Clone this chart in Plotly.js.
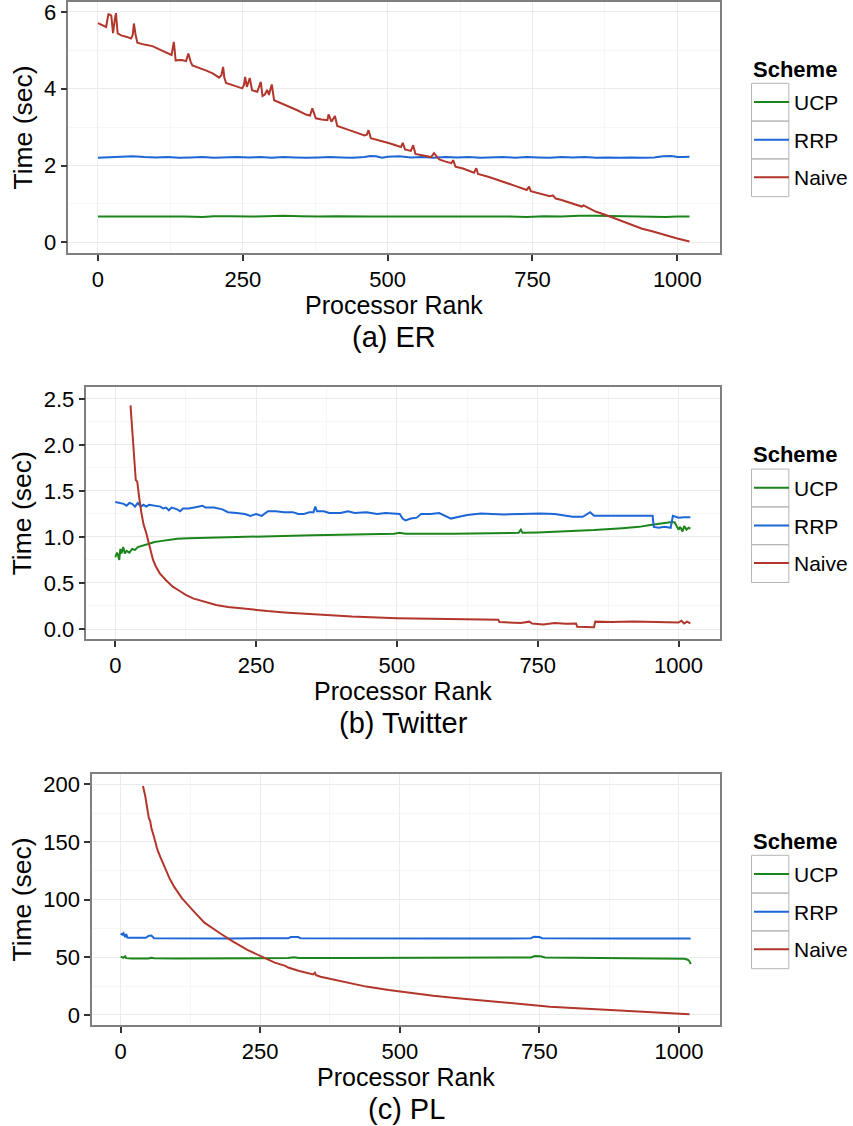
<!DOCTYPE html>
<html>
<head>
<meta charset="utf-8">
<script src="https://cdn.plot.ly/plotly-3.0.1.min.js"></script>
<style>html,body{margin:0;padding:0;background:#fff;}#chart{width:853px;height:1126px;}</style>
</head>
<body>
<div id="chart"></div>
<script>
// ---------- DATA ----------
const seriesNames = ["UCP", "RRP", "Naive"];
const panelCaptions = ["(a) ER", "(b) Twitter", "(c) PL"];
const xTitle = "Processor Rank";
const yTitle = "Time (sec)";
const legendTitle = "Scheme";
const xTickVals = [0, 250, 500, 750, 1000];

// (a) ER
const erNaiveX = [0,8,14,18,21,23,26,29,31,34,40,50,57,60,62,65,68,80,94,105,117,127,131,134,145,152,156,160,163,175,186,198,209,213,216,218,221,235,249,252,254,257,260,262,266,275,281,284,288,292,295,300,304,315,324,335,344,360,366,370,376,386,396,398,403,409,413,430,447,460,464,467,471,485,503,515,523,526,530,540,544,548,565,575,580,589,600,610,613,617,630,649,653,656,675,700,720,740,744,747,765,780,785,790,800,820,835,838,850,859,880,899,920,938,958,977,1000,1021];
const erNaiveY = [5.71,5.65,5.61,5.94,5.93,5.90,5.45,5.80,5.97,5.44,5.39,5.35,5.31,5.40,5.70,5.40,5.20,5.15,5.11,5.03,4.94,4.88,5.22,4.74,4.75,4.72,4.92,4.70,4.61,4.55,4.48,4.40,4.29,4.35,4.57,4.30,4.15,4.08,4.01,4.10,4.31,4.05,4.20,4.28,3.96,3.92,4.18,3.81,3.85,3.97,3.84,4.11,3.70,3.63,3.57,3.50,3.44,3.32,3.30,3.49,3.23,3.20,3.18,3.33,3.14,3.29,3.03,2.94,2.85,2.78,2.80,2.92,2.71,2.66,2.58,2.52,2.48,2.59,2.42,2.38,2.53,2.30,2.25,2.22,2.32,2.16,2.10,2.06,2.14,1.97,1.92,1.81,1.93,1.78,1.70,1.58,1.47,1.36,1.45,1.33,1.26,1.20,1.22,1.14,1.10,1.01,0.93,0.96,0.86,0.80,0.69,0.58,0.47,0.36,0.28,0.19,0.10,0.02];
const erRrpX = [0,20,40,60,80,100,120,140,160,180,200,220,240,260,280,300,320,340,360,380,400,420,440,460,470,480,490,500,520,540,560,580,600,620,640,660,680,700,720,740,760,780,800,820,840,860,880,900,920,940,960,975,990,1000,1010,1021];
const erRrpY = [2.20,2.21,2.22,2.24,2.22,2.21,2.22,2.20,2.21,2.22,2.20,2.21,2.22,2.21,2.22,2.20,2.22,2.21,2.20,2.21,2.22,2.21,2.20,2.22,2.25,2.24,2.20,2.23,2.24,2.21,2.22,2.20,2.22,2.21,2.22,2.20,2.21,2.22,2.20,2.22,2.21,2.20,2.22,2.21,2.22,2.20,2.21,2.20,2.21,2.20,2.21,2.24,2.25,2.22,2.22,2.23];
const erUcpX = [0,30,60,90,120,150,180,200,230,260,290,320,350,380,410,440,470,500,530,560,590,620,650,680,710,740,770,800,830,860,890,920,950,980,1000,1021];
const erUcpY = [0.67,0.67,0.68,0.68,0.67,0.67,0.66,0.68,0.68,0.67,0.68,0.69,0.68,0.67,0.68,0.67,0.67,0.67,0.67,0.68,0.67,0.68,0.67,0.67,0.67,0.66,0.68,0.67,0.69,0.69,0.68,0.67,0.67,0.66,0.67,0.67];

// (b) Twitter
const twNaiveX = [27,29,31.6,34.5,36.3,39,40,42.2,46.4,50,55,60,67,72,79,90,102,115,125,138,155,179,200,235,270,300,365,420,500,560,620,680,682,700,720,735,740,760,780,800,818,820,835,850,852,880,920,960,990,1000,1005,1010,1015,1021];
const twNaiveY = [2.43,2.25,2.05,1.76,1.62,1.60,1.52,1.44,1.26,1.14,1.04,0.92,0.75,0.68,0.605,0.53,0.46,0.41,0.37,0.333,0.30,0.26,0.24,0.214,0.195,0.18,0.152,0.135,0.118,0.11,0.105,0.10,0.075,0.072,0.065,0.08,0.06,0.05,0.065,0.058,0.06,0.025,0.022,0.02,0.08,0.075,0.082,0.08,0.075,0.07,0.09,0.06,0.08,0.06];
const twRrpX = [0,8,15,20,25,30,35,40,45,50,55,60,70,80,85,90,95,100,110,115,120,130,140,150,155,160,175,190,200,215,230,240,250,260,265,271,285,300,315,325,335,345,352,355,358,370,380,400,413,425,446,465,480,505,510,515,525,535,543,560,575,590,596,610,625,649,670,690,720,755,780,800,812,830,843,850,880,917,940,950,954,956,965,975,986,990,1000,1010,1021];
const twRrpY = [1.38,1.37,1.36,1.34,1.37,1.36,1.33,1.37,1.33,1.35,1.33,1.35,1.34,1.33,1.31,1.32,1.29,1.32,1.30,1.28,1.31,1.31,1.32,1.33,1.34,1.32,1.32,1.30,1.27,1.26,1.25,1.23,1.25,1.23,1.25,1.28,1.28,1.27,1.27,1.25,1.25,1.27,1.27,1.33,1.28,1.28,1.26,1.26,1.28,1.26,1.27,1.25,1.26,1.25,1.20,1.18,1.20,1.21,1.25,1.25,1.26,1.22,1.20,1.22,1.24,1.255,1.25,1.245,1.25,1.255,1.25,1.23,1.22,1.22,1.27,1.23,1.23,1.23,1.23,1.235,1.23,1.11,1.10,1.11,1.10,1.23,1.21,1.215,1.215];
const twUcpX = [0,3,5,7,9,11,14,17,20,25,30,35,40,50,60,70,80,95,110,130,160,200,250,300,350,400,450,495,505,515,600,650,700,716,720,723,750,800,850,900,930,950,970,985,993,997,1000,1003,1007,1010,1014,1018,1021];
const twUcpY = [0.78,0.83,0.80,0.75,0.87,0.82,0.89,0.82,0.85,0.83,0.87,0.86,0.89,0.91,0.93,0.945,0.955,0.97,0.98,0.985,0.99,1.00,1.01,1.015,1.02,1.025,1.03,1.035,1.045,1.035,1.035,1.04,1.04,1.045,1.08,1.045,1.05,1.06,1.075,1.095,1.11,1.13,1.15,1.16,1.16,1.12,1.08,1.11,1.06,1.12,1.08,1.10,1.09];

// (c) PL
const plNaiveX = [40,44,48,50.6,53,55,58.8,62,66,71,80,88,96,110,128.6,150,178,190,200,227,250,276,295,300,320,345,348,350,358,400,440,480,523,560,604,650,687,730,769,810,851,890,933,980,1000,1019];
const plNaiveY = [198.5,190,178,170.5,168,162,156,150,143,137,127,118,111,101,91,80,70.8,67,64,56.3,51,45.3,42.5,41,38,35,36.5,34.5,33.1,28.5,24.5,21.5,18.7,16.5,14.4,12.3,10.6,8.8,7.1,6.0,4.85,3.6,2.25,1.3,0.9,0.5];
const plRrpX = [0,3,5,8,10,12,15,30,45,50,55,60,100,150,200,250,300,305,318,322,400,500,600,700,735,740,750,755,800,900,1000,1021];
const plRrpY = [70.5,69.5,70.8,67.5,70,67,66.8,66.6,66.8,68.5,68.8,66.5,66.3,66.4,66.3,66.5,66.4,67.5,67.5,66.5,66.3,66.4,66.3,66.2,66.5,67.8,67.5,66.5,66.3,66.2,66.3,66.2];
const plUcpX = [0,5,8,10,20,50,55,60,100,200,300,310,320,400,500,600,700,735,742,752,760,800,900,1000,1010,1016,1019,1021];
const plUcpY = [50.5,49.5,50.8,49.2,48.8,48.9,49.6,49.1,48.9,49.0,49.3,50,49.4,49.4,49.5,49.5,49.6,49.8,51,50.8,49.7,49.6,49.5,49.0,48.6,47.8,46.5,44];

// ---------- STYLE ----------
const colors = {UCP: "#1b851b", RRP: "#1c66d6", Naive: "#b2362b"};
const FONT = "'Liberation Sans', Arial, Helvetica, sans-serif";
const W = 853, H = 1126;
const px = v => v / W;
const py = v => 1 - v / H;

const panels = [
  {data: [[erUcpX, erUcpY], [erRrpX, erRrpY], [erNaiveX, erNaiveY]], left: 68.5, top: 2, bottom: 253, yrange: [-0.28, 6.26], dtick: 2, fmt: "d"},
  {data: [[twUcpX, twUcpY], [twRrpX, twRrpY], [twNaiveX, twNaiveY]], left: 86.7, top: 387.3, bottom: 639.3, yrange: [-0.112, 2.627], dtick: 0.5, fmt: ".1f"},
  {data: [[plUcpX, plUcpY], [plRrpX, plRrpY], [plNaiveX, plNaiveY]], left: 92.3, top: 774, bottom: 1025, yrange: [-8.8, 208.9], dtick: 50, fmt: "d"}
];
const RIGHT = 722;
const KEY = 37.8;

const traces = [];
const layout = {
  width: W, height: H,
  margin: {l: 0, r: 0, t: 0, b: 0},
  paper_bgcolor: "#fff", plot_bgcolor: "#fff",
  font: {family: FONT, color: "#000"},
  shapes: [], annotations: []
};

panels.forEach((p, i) => {
  const n = i === 0 ? "" : String(i + 1);
  const legName = "legend" + n;
  p.data.forEach((d, k) => {
    traces.push({
      type: "scatter", mode: "lines",
      x: d[0], y: d[1],
      name: seriesNames[k],
      xaxis: "x" + n, yaxis: "y" + n,
      legend: legName,
      legendgroup: "g" + i + k,
      line: {color: colors[seriesNames[k]], width: 2},
      hoverinfo: "x+y+name"
    });
  });
  const common = {
    showline: true, mirror: true, linecolor: "#7f7f7f", linewidth: 1.5,
    ticks: "outside", ticklen: 6, tickwidth: 1.5, tickcolor: "#333",
    showgrid: true, gridcolor: "#EBEBEB", gridwidth: 1,
    zeroline: false, ticklabeloverflow: "allow",
    tickfont: {family: FONT, size: 22, color: "#000"}
  };
  layout["xaxis" + n] = Object.assign({}, common, {
    domain: [px(p.left), px(RIGHT)],
    range: [-51.15, 1074.15],
    anchor: "y" + n,
    tickvals: xTickVals,
    minor: {dtick: 125, tick0: 0, showgrid: true, gridcolor: "#F6F6F6", ticks: ""}
  });
  layout["yaxis" + n] = Object.assign({}, common, {
    domain: [py(p.bottom), py(p.top)],
    range: p.yrange,
    anchor: "x" + n,
    dtick: p.dtick, tick0: 0, tickformat: p.fmt,
    minor: {dtick: p.dtick / 2, tick0: 0, showgrid: true, gridcolor: "#F6F6F6", ticks: ""},
    title: {text: yTitle, font: {family: FONT, size: 26.5}, standoff: 4}
  });
  layout.annotations.push({
    xref: "paper", yref: "paper", x: px((p.left + RIGHT) / 2), y: py(p.bottom + 52),
    xanchor: "center", yanchor: "middle", showarrow: false,
    text: xTitle, font: {family: FONT, size: 25, color: "#000"}
  });
  const center = (p.top + p.bottom) / 2;
  const boxTop = center - 44.2;
  layout[legName] = {
    x: px(751), xanchor: "left",
    y: py(boxTop - 1.4), yanchor: "top",
    bgcolor: "rgba(0,0,0,0)", borderwidth: 0,
    traceorder: "grouped", tracegroupgap: 7.3, itemwidth: 35,
    font: {family: FONT, size: 21, color: "#000"}
  };
  layout.annotations.push({
    xref: "paper", yref: "paper", x: px(752.5), y: py(center - 58.5),
    xanchor: "left", yanchor: "middle", showarrow: false,
    text: "<b>" + legendTitle + "</b>", font: {family: FONT, size: 22, color: "#000"}
  });
  for (let k = 0; k < 3; k++) {
    layout.shapes.push({
      type: "rect", xref: "paper", yref: "paper",
      x0: px(753.3), x1: px(790.7),
      y0: py(boxTop + KEY * k), y1: py(boxTop + KEY * (k + 1)),
      line: {color: "#b5b5b5", width: 1}, fillcolor: "rgba(0,0,0,0)"
    });
  }
  layout.annotations.push({
    xref: "paper", yref: "paper", x: px((p.left + RIGHT) / 2), y: py(p.bottom + 83.5),
    xanchor: "center", yanchor: "middle", showarrow: false,
    text: panelCaptions[i], font: {family: FONT, size: 29, color: "#000"}
  });
});

Plotly.newPlot("chart", traces, layout, {displayModeBar: false, responsive: false});
</script>
</body>
</html>
